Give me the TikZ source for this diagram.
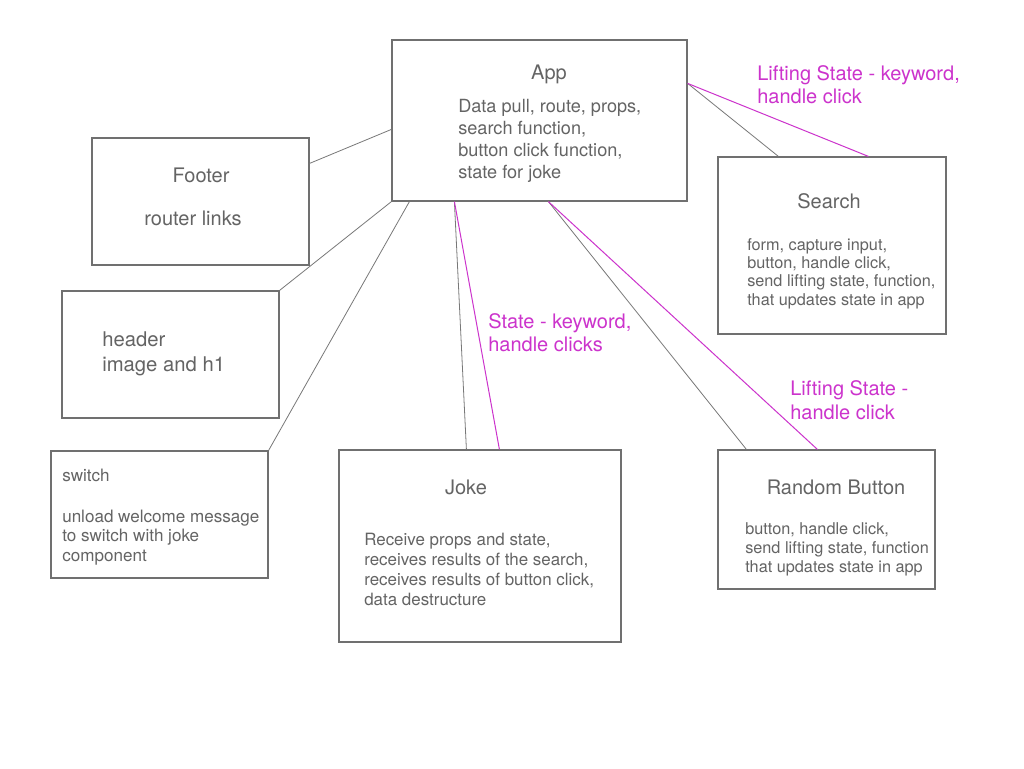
\documentclass[tikz,border=0pt]{standalone}
\usepackage{fontspec}
\setmainfont{TeX Gyre Heros}
\usetikzlibrary{fit,calc}
\definecolor{boxgray}{RGB}{112,112,112}
\definecolor{linegray}{RGB}{120,120,120}
\definecolor{txtgray}{RGB}{100,100,100}
\definecolor{mag}{RGB}{204,51,204}
\tikzset{
  box/.style={draw=boxgray, line width=0.9pt, inner sep=0pt, fill=none},
  conn/.style={draw=linegray, line width=0.6pt},
  magconn/.style={draw=mag, line width=0.75pt},
  title/.style={text=txtgray, inner sep=0pt, anchor=base, font=\fontsize{15}{18}\selectfont},
  bodytxt/.style={text=txtgray, inner sep=0pt, anchor=base west, align=left},
  maglabel/.style={text=mag, inner sep=0pt, anchor=base west, align=left, font=\fontsize{15}{17.25}\selectfont},
}
\begin{document}
\begin{tikzpicture}[x=0.75pt,y=-0.75pt]
\useasboundingbox (0,0) rectangle (1024,768);
\fill[white] (0,0) rectangle (1024,768);

% boxes
\node[box, fit={(392,40) (687,201)}] (app) {};
\node[box, fit={(92,138) (309,265)}] (footer) {};
\node[box, fit={(62,291) (279,418)}] (header) {};
\node[box, fit={(51,451) (268,578)}] (switch) {};
\node[box, fit={(339,450) (621,642)}] (joke) {};
\node[box, fit={(718,157) (946,334)}] (search) {};
\node[box, fit={(718,450) (935,589)}] (random) {};

% texts (multi-line nodes: base = baseline of last line)
\node[title] (apptitle) at (549,79) {App};
\node[bodytxt, font=\fontsize{13.6}{16.5}\selectfont] (appbody) at (458,178)
  {Data pull, route, props,\\search function,\\button click function,\\state for joke};
\node[title] (footertitle) at (201,182) {Footer};
\node[title] (footerbody) at (193,225) {router links};
\node[bodytxt, font=\fontsize{15.2}{18.75}\selectfont] (headerbody) at (102,371)
  {header\\image and h1};
\node[bodytxt, font=\fontsize{12.8}{14.6}\selectfont] (switchbody) at (62,561)
  {switch\\[16pt]unload welcome message\\to switch with joke\\component};
\node[title] (joketitle) at (466,494) {Joke};
\node[bodytxt, font=\fontsize{12.7}{15}\selectfont] (jokebody) at (364,605)
  {Receive props and state,\\receives results of the search,\\receives results of button click,\\data destructure};
\node[title] (searchtitle) at (829,208) {Search};
\node[bodytxt, font=\fontsize{12.2}{13.75}\selectfont] (searchbody) at (747,305)
  {form, capture input,\\button, handle click,\\send lifting state, function,\\that updates state in app};
\node[title] (randomtitle) at (836,494) {Random Button};
\node[bodytxt, font=\fontsize{12.2}{13.9}\selectfont] (randombody) at (745,572)
  {button, handle click,\\send lifting state, function\\that updates state in app};

% magenta labels
\node[maglabel] (lbl1) at (757,103) {Lifting State - keyword,\\handle click};
\node[maglabel] (lbl2) at (488,351) {State - keyword,\\handle clicks};
\node[maglabel, font=\fontsize{15}{18}\selectfont] (lbl3) at (790,419) {Lifting State -\\handle click};

% connectors
\draw[conn] ($(footer.north east)+(0,26)$) -- ($(app.north west)+(0,90)$);
\draw[conn] (header.north east) -- (app.south west);
\draw[conn] (switch.north east) -- ($(app.south west)+(18,0)$);
\draw[conn] ($(app.south west)+(63,0)$) -- ($(joke.north west)+(128,0)$);
\draw[magconn] ($(app.south west)+(63,0)$) -- ($(joke.north west)+(161,0)$);
\draw[conn] ($(app.south west)+(157,0)$) -- ($(random.north west)+(29,0)$);
\draw[magconn] ($(app.south west)+(157,0)$) -- ($(random.north west)+(100,0)$);
\draw[conn] ($(app.north east)+(0,44)$) -- ($(search.north west)+(61,0)$);
\draw[magconn] ($(app.north east)+(0,44)$) -- ($(search.north west)+(151,0)$);
\end{tikzpicture}
\end{document}
